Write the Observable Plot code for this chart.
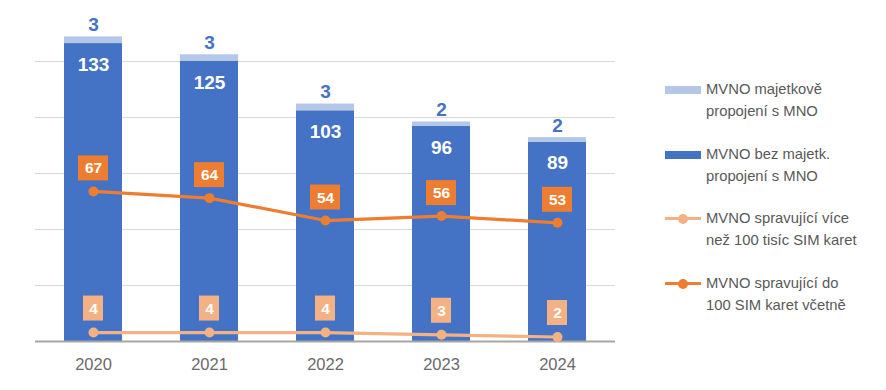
<!DOCTYPE html>
<html>
<head>
<meta charset="utf-8">
<script src="https://cdn.jsdelivr.net/npm/d3@7"></script>
<script src="https://cdn.jsdelivr.net/npm/@observablehq/plot@0.6"></script>
<style>
  html, body { margin: 0; padding: 0; background: #fff; }
  #wrap { position: relative; width: 886px; height: 390px; font-family: "Liberation Sans", Arial, sans-serif; }
  .leg { position: absolute; left: 665px; color: #595959; font-size: 14.8px; line-height: 21.5px; }
  .leg .sw { position: absolute; left: 0; width: 36px; }
  .leg .tx { position: absolute; left: 41px; white-space: nowrap; }
</style>
</head>
<body>
<div id="wrap"></div>
<script>
const years = ["2020", "2021", "2022", "2023", "2024"];
const mvnoOwned = [3, 3, 3, 2, 2];          // MVNO majetkově propojení s MNO
const mvnoIndependent = [133, 125, 103, 96, 89]; // MVNO bez majetk. propojení s MNO
const mvnoOver100k = [4, 4, 4, 3, 2];       // MVNO spravující více než 100 tisíc SIM karet
const mvnoUpTo100 = [67, 64, 54, 56, 53];   // MVNO spravující do 100 SIM karet včetně
const gridValues = [25, 50, 75, 100, 125];

const colors = {
  light: "#B4C7E7",
  dark: "#4472C4",
  orange: "#ED7D31",
  lightOrange: "#F4B183"
};

const rows = years.map((y, i) => ({
  year: y,
  owned: mvnoOwned[i],
  indep: mvnoIndependent[i],
  total: mvnoIndependent[i] + mvnoOwned[i],
  over: mvnoOver100k[i],
  upto: mvnoUpTo100[i]
}));

const chart = Plot.plot({
  width: 886,
  height: 390,
  marginLeft: 35,
  marginRight: 271,
  marginTop: 5,
  marginBottom: 49,
  style: { fontFamily: "Liberation Sans, Arial, sans-serif", fontSize: "16.5px", color: "#6a6a6a", background: "transparent" },
  x: { domain: years, paddingInner: 0.5, paddingOuter: 0.25, tickSize: 0, tickPadding: 17, label: null },
  y: { domain: [0, 150], axis: null },
  marks: [
    Plot.ruleY(gridValues, { stroke: "#d9d9d9", strokeWidth: 1 }),
    Plot.barY(rows, { x: "year", y1: 0, y2: "indep", fill: colors.dark }),
    Plot.barY(rows, { x: "year", y1: "indep", y2: "total", fill: colors.light }),
    Plot.ruleY([0], { stroke: "#a6a6a6", strokeWidth: 2 }),
    Plot.text(rows, { x: "year", y: "total", text: "owned", dy: -12, fill: colors.dark, fontWeight: "bold", fontSize: 19 }),
    Plot.text(rows, { x: "year", y: "indep", text: "indep", dy: 21, fill: "#fff", fontWeight: "bold", fontSize: 19 }),
    // lines
    Plot.line(rows, { x: "year", y: "upto", stroke: colors.orange, strokeWidth: 3.2 }),
    Plot.dot(rows, { x: "year", y: "upto", r: 5, fill: colors.orange }),
    Plot.line(rows, { x: "year", y: "over", stroke: colors.lightOrange, strokeWidth: 3.2 }),
    Plot.dot(rows, { x: "year", y: "over", r: 5, fill: colors.lightOrange }),
    // label boxes
    Plot.barY(rows, { x: "year", y1: "upto", y2: "upto", fill: colors.orange, insetLeft: 14, insetRight: 14, insetTop: -35.5, insetBottom: 10.5 }),
    Plot.text(rows, { x: "year", y: "upto", text: "upto", dy: -23, fill: "#fff", fontWeight: "bold", fontSize: 15.5 }),
    Plot.barY(rows, { x: "year", y1: "over", y2: "over", fill: colors.lightOrange, insetLeft: 19, insetRight: 19, insetTop: -36.5, insetBottom: 11.5 }),
    Plot.text(rows, { x: "year", y: "over", text: "over", dy: -24, fill: "#fff", fontWeight: "bold", fontSize: 15.5 })
  ]
});

const wrap = document.getElementById("wrap");
wrap.appendChild(chart);

const legendItems = [
  { kind: "bar", color: colors.light, lines: ["MVNO majetkově", "propojení s MNO"], top: 79 },
  { kind: "bar", color: colors.dark, lines: ["MVNO bez majetk.", "propojení s MNO"], top: 144 },
  { kind: "line", color: colors.lightOrange, lines: ["MVNO spravující více", "než 100 tisíc SIM karet"], top: 208 },
  { kind: "line", color: colors.orange, lines: ["MVNO spravující do", "100 SIM karet včetně"], top: 273 }
];
for (const it of legendItems) {
  const d = document.createElement("div");
  d.className = "leg";
  d.style.top = it.top + "px";
  const mid = 10.5;
  let sw;
  if (it.kind === "bar") {
    sw = `<div class="sw" style="top:${mid - 4}px;height:8px;background:${it.color}"></div>`;
  } else {
    sw = `<div class="sw" style="top:${mid - 1.5}px;height:3px;background:${it.color}"></div>` +
         `<div style="position:absolute;left:13px;top:${mid - 5}px;width:10px;height:10px;border-radius:50%;background:${it.color}"></div>`;
  }
  d.innerHTML = sw + `<div class="tx">${it.lines.join("<br>")}</div>`;
  wrap.appendChild(d);
}
chart.style.position = "absolute";
chart.style.left = "0";
chart.style.top = "0";
</script>
</body>
</html>
